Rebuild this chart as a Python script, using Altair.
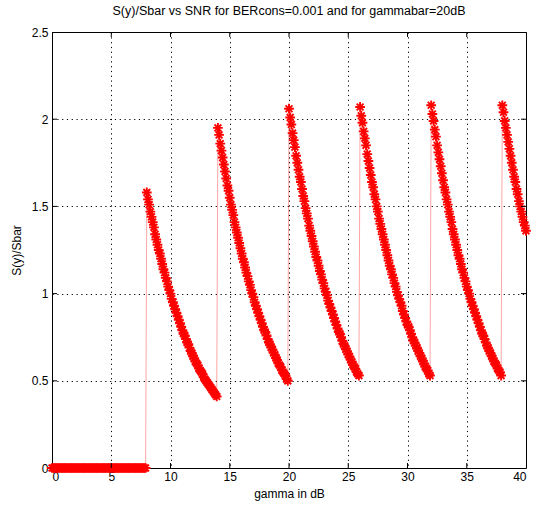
import altair as alt
import pandas as pd

# ---- data (gamma step 0.1 dB inside each region) ----
step = 0.1
seg_starts = [0.0, 8.0, 14.0, 20.0, 26.0, 32.0, 38.0]

seg0 = [0, 0, 0, 0, 0, 0, 0, 0, 0, 0, 0, 0, 0, 0, 0, 0, 0, 0, 0, 0,
        0, 0, 0, 0, 0, 0, 0, 0, 0, 0, 0, 0, 0, 0, 0, 0, 0, 0, 0, 0,
        0, 0, 0, 0, 0, 0, 0, 0, 0, 0, 0, 0, 0, 0, 0, 0, 0, 0, 0, 0,
        0, 0, 0, 0, 0, 0, 0, 0, 0, 0, 0, 0, 0, 0, 0, 0, 0, 0, 0, 0]

seg1 = [1.58, 1.54, 1.51, 1.47, 1.44, 1.41, 1.38, 1.34, 1.31, 1.28,
        1.25, 1.23, 1.20, 1.17, 1.14, 1.12, 1.09, 1.07, 1.04, 1.02,
        1.00, 0.97, 0.95, 0.93, 0.91, 0.89, 0.87, 0.85, 0.83, 0.81,
        0.79, 0.77, 0.76, 0.74, 0.72, 0.71, 0.69, 0.67, 0.66, 0.64,
        0.63, 0.61, 0.60, 0.59, 0.57, 0.56, 0.55, 0.54, 0.52, 0.51,
        0.50, 0.49, 0.48, 0.47, 0.46, 0.45, 0.44, 0.43, 0.42, 0.41]

seg2 = [1.95, 1.91, 1.86, 1.82, 1.78, 1.74, 1.70, 1.66, 1.62, 1.59,
        1.55, 1.51, 1.48, 1.45, 1.41, 1.38, 1.35, 1.32, 1.29, 1.26,
        1.23, 1.20, 1.18, 1.15, 1.12, 1.10, 1.07, 1.05, 1.02, 1.00,
        0.98, 0.95, 0.93, 0.91, 0.89, 0.87, 0.85, 0.83, 0.81, 0.79,
        0.78, 0.76, 0.74, 0.72, 0.71, 0.69, 0.68, 0.66, 0.65, 0.63,
        0.62, 0.60, 0.59, 0.58, 0.56, 0.55, 0.54, 0.53, 0.51, 0.50]

seg3 = [2.06, 2.01, 1.97, 1.92, 1.88, 1.84, 1.79, 1.75, 1.71, 1.67,
        1.64, 1.60, 1.56, 1.53, 1.49, 1.46, 1.43, 1.39, 1.36, 1.33,
        1.30, 1.27, 1.24, 1.21, 1.19, 1.16, 1.13, 1.11, 1.08, 1.06,
        1.03, 1.01, 0.99, 0.96, 0.94, 0.92, 0.90, 0.88, 0.86, 0.84,
        0.82, 0.80, 0.78, 0.77, 0.75, 0.73, 0.71, 0.70, 0.68, 0.67,
        0.65, 0.64, 0.62, 0.61, 0.59, 0.58, 0.57, 0.55, 0.54, 0.53]

seg4 = [2.07, 2.02, 1.98, 1.93, 1.89, 1.85, 1.80, 1.76, 1.72, 1.68,
        1.64, 1.61, 1.57, 1.54, 1.50, 1.47, 1.43, 1.40, 1.37, 1.34,
        1.31, 1.28, 1.25, 1.22, 1.19, 1.16, 1.14, 1.11, 1.09, 1.06,
        1.04, 1.01, 0.99, 0.97, 0.95, 0.93, 0.90, 0.88, 0.86, 0.84,
        0.82, 0.81, 0.79, 0.77, 0.75, 0.73, 0.72, 0.70, 0.69, 0.67,
        0.66, 0.64, 0.63, 0.61, 0.60, 0.58, 0.57, 0.56, 0.54, 0.53]

seg5 = [2.08, 2.03, 1.99, 1.94, 1.90, 1.85, 1.81, 1.77, 1.73, 1.69,
        1.65, 1.61, 1.58, 1.54, 1.51, 1.47, 1.44, 1.41, 1.37, 1.34,
        1.31, 1.28, 1.25, 1.22, 1.20, 1.17, 1.14, 1.12, 1.09, 1.07,
        1.04, 1.02, 1.00, 0.97, 0.95, 0.93, 0.91, 0.89, 0.87, 0.85,
        0.83, 0.81, 0.79, 0.77, 0.76, 0.74, 0.72, 0.70, 0.69, 0.67,
        0.66, 0.64, 0.63, 0.61, 0.60, 0.59, 0.57, 0.56, 0.55, 0.53]

seg6 = [2.08, 2.04, 1.99, 1.95, 1.91, 1.87, 1.83, 1.79, 1.75, 1.71,
        1.67, 1.64, 1.60, 1.57, 1.53, 1.50, 1.47, 1.44, 1.41, 1.39,
        1.36]

segments = [seg0, seg1, seg2, seg3, seg4, seg5, seg6]

x_ticks = [0, 5, 10, 15, 20, 25, 30, 35, 40]
y_ticks = [0, 0.5, 1, 1.5, 2, 2.5]
x_inner_ticks = [5, 10, 15, 20, 25, 30, 35]
y_inner_ticks = [0.5, 1, 1.5, 2]

title_text = "S(y)/Sbar vs SNR for BERcons=0.001 and for gammabar=20dB"

# ---- build table ----
rows = []
for start, vals in zip(seg_starts, segments):
    for i, v in enumerate(vals):
        rows.append({"gamma": round(start + i * step, 2), "ratio": v})
df = pd.DataFrame(rows)

W, H = 474, 436
FONT = "Liberation Sans"
STAR = "M-1,0L1,0M0,-1L0,1M-0.7,-0.7L0.7,0.7M-0.7,0.7L0.7,-0.7"

x_enc = alt.X(
    "gamma:Q",
    scale=alt.Scale(domain=[0, 40], nice=False, zero=False),
    axis=alt.Axis(
        values=x_ticks, grid=True, gridColor="black", gridDash=[1.2, 3.6],
        gridWidth=1, gridOpacity=1, ticks=False, domain=False,
        labelFont=FONT, labelFontSize=12, labelColor="black", labelPadding=3,
        title="gamma in dB", titleFont=FONT, titleFontSize=12,
        titleFontWeight="normal", titleColor="black", titlePadding=6,
    ),
)
y_enc = alt.Y(
    "ratio:Q",
    scale=alt.Scale(domain=[0, 2.5], nice=False),
    axis=alt.Axis(
        values=y_ticks, format="~g", grid=True, gridColor="black",
        gridDash=[1.2, 3.6], gridWidth=1, gridOpacity=1, ticks=False,
        domain=False, labelFont=FONT, labelFontSize=12, labelColor="black",
        labelPadding=4, title="S(y)/Sbar", titleFont=FONT, titleFontSize=12,
        titleFontWeight="normal", titleColor="black", titlePadding=8,
    ),
)

base = alt.Chart(df)
line = base.mark_line(color="#ff0000", strokeWidth=0.6, opacity=0.6).encode(
    x=x_enc, y=y_enc
)
points = base.mark_point(
    shape=STAR, filled=False, color="#ff0000", size=95, strokeWidth=1.9, opacity=1
).encode(x=alt.X("gamma:Q"), y=alt.Y("ratio:Q"))

xt = alt.Chart(pd.DataFrame({"gamma": x_inner_ticks}))
yt = alt.Chart(pd.DataFrame({"ratio": y_inner_ticks}))
tick_b = xt.mark_rule(color="black", strokeWidth=1).encode(
    x="gamma:Q", y=alt.value(H), y2=alt.value(H - 5))
tick_t = xt.mark_rule(color="black", strokeWidth=1).encode(
    x="gamma:Q", y=alt.value(0), y2=alt.value(5))
tick_l = yt.mark_rule(color="black", strokeWidth=1).encode(
    y="ratio:Q", x=alt.value(0), x2=alt.value(5))
tick_r = yt.mark_rule(color="black", strokeWidth=1).encode(
    y="ratio:Q", x=alt.value(W), x2=alt.value(W - 5))

chart = (
    alt.layer(line, points, tick_b, tick_t, tick_l, tick_r)
    .properties(
        width=W,
        height=H,
        title=alt.TitleParams(
            text=title_text, font=FONT, fontSize=12.5, fontWeight="normal",
            color="black", anchor="middle", offset=9,
        ),
        autosize=alt.AutoSizeParams(type="none"),
        padding={"left": 52, "top": 32, "right": 7, "bottom": 42},
        background="white",
    )
    .configure_view(stroke="black", strokeWidth=1)
)

chart.save("out.html", embed_options={"renderer": "svg", "actions": False})
